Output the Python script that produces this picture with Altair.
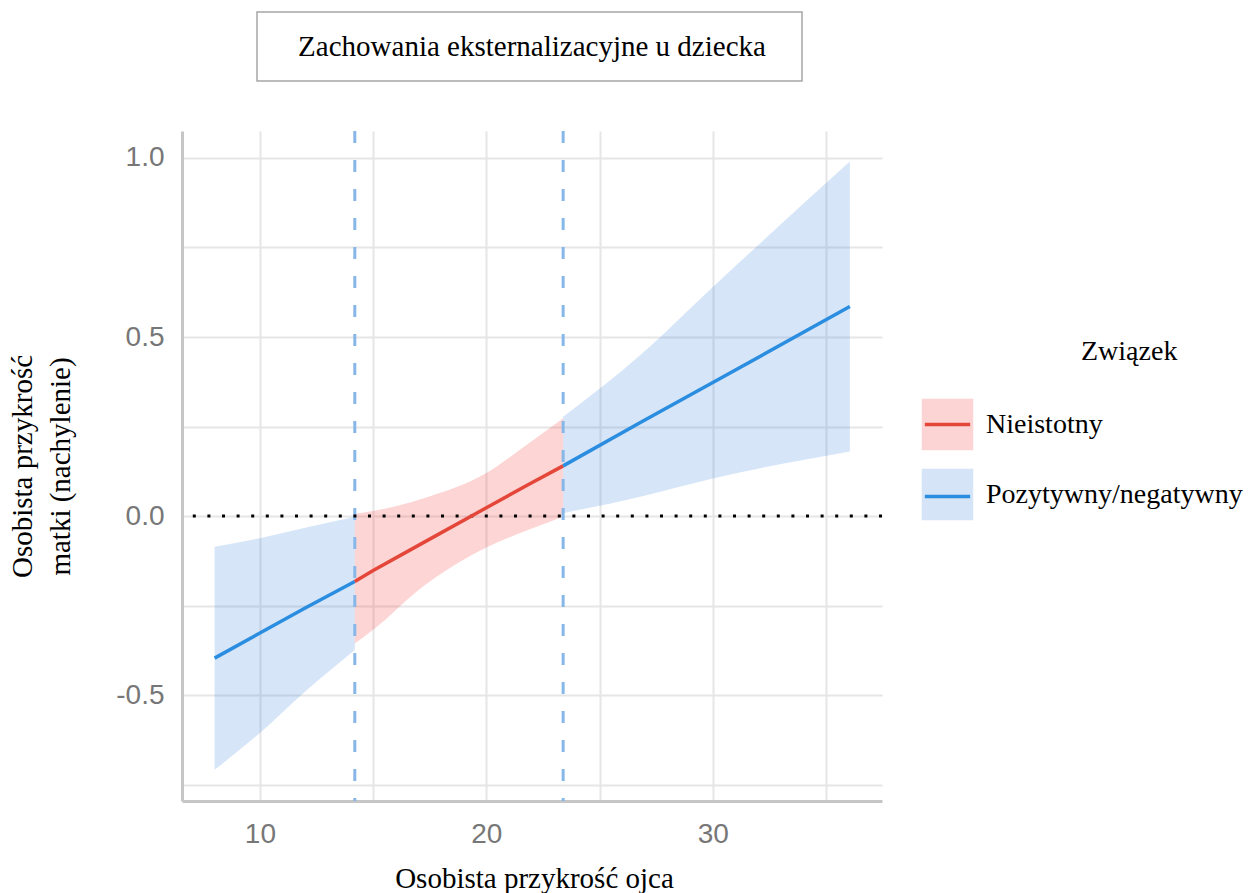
import altair as alt
import pandas as pd

# ---- values ----
left_x = [8.0, 10.0, 12.0, 14.19]
left_fit = [-0.397, -0.327, -0.257, -0.183]
left_lo = [-0.709, -0.606, -0.490, -0.374]
left_hi = [-0.086, -0.062, -0.033, -0.002]

mid_x = [14.19, 15.0, 17.2, 20.0, 21.8, 23.39]
mid_fit = [-0.183, -0.152, -0.075, 0.023, 0.086, 0.140]
mid_lo = [-0.356, -0.318, -0.197, -0.088, -0.040, -0.002]
mid_hi = [0.006, 0.014, 0.049, 0.120, 0.200, 0.273]

right_x = [23.39, 26.8, 30.0, 36.05]
right_fit = [0.140, 0.261, 0.373, 0.585]
right_lo = [0.008, 0.054, 0.105, 0.180]
right_hi = [0.277, 0.450, 0.640, 0.990]

segment_groups = ["Pozytywny/negatywny", "Nieistotny", "Pozytywny/negatywny"]
jn_points = [14.19, 23.39]
zero_line = [0.0]
x_ticks = [10, 15, 20, 25, 30, 35]
y_ticks = [-0.75, -0.5, -0.25, 0.0, 0.25, 0.5, 0.75, 1.0]

title_text = "Zachowania eksternalizacyjne u dziecka"
x_title = "Osobista przykrość ojca"
y_title = ["Osobista przykrość", "matki (nachylenie)"]
legend_title = "Związek"

# ---- tables ----
rows = []
for seg, (xs, fit, lo, hi) in enumerate([
    (left_x, left_fit, left_lo, left_hi),
    (mid_x, mid_fit, mid_lo, mid_hi),
    (right_x, right_fit, right_lo, right_hi),
]):
    for i in range(len(xs)):
        rows.append(dict(x=xs[i], fit=fit[i], lo=lo[i], hi=hi[i],
                         grp=segment_groups[seg], grp_line=segment_groups[seg], seg=seg))
df = pd.DataFrame(rows)
jn_df = pd.DataFrame({"x": jn_points})
zero_df = pd.DataFrame({"y": zero_line})
box_df = pd.DataFrame({"k": [0]})

SERIF = "Liberation Serif"
SANS = "Liberation Sans"

xscale = alt.Scale(domain=[6.56, 37.47], nice=False, zero=False)
yscale = alt.Scale(domain=[-0.796, 1.0754], nice=False, zero=False)

x_axis = alt.Axis(
    values=x_ticks, format="d",
    labelExpr="datum.value % 10 == 0 ? datum.label : ''",
    labelPadding=19,
    title=x_title, titleX=352, titleY=86, titleAlign="center", titleBaseline="alphabetic",
)
y_axis = alt.Axis(
    values=y_ticks,
    labelExpr="abs(datum.value) % 0.5 == 0 ? (datum.value < 0 ? '-' : '') + format(abs(datum.value), '.1f') : ''",
    labelPadding=18,
    title=y_title, titleX=-151, titleY=335, titleAngle=270, titleAlign="center",
    titleBaseline="alphabetic", titleLineHeight=38,
)

X = alt.X("x:Q", scale=xscale, axis=x_axis)

legend_common = dict(
    orient="none", legendX=738, legendY=207, padding=0,
    titleFont=SERIF, titleFontSize=28, titleFontWeight="normal", titleColor="black",
    titleAnchor="middle", titleAlign="left", titlePadding=31, titleLimit=400,
    labelFont=SERIF, labelFontSize=28, labelColor="black", labelOffset=11, labelLimit=500,
    symbolSize=2650, rowPadding=5,
)

band = alt.Chart(df).mark_area(opacity=0.2, interpolate="monotone").encode(
    x=X,
    y=alt.Y("lo:Q", scale=yscale, axis=y_axis),
    y2="hi:Q",
    fill=alt.Fill("grp:N", scale=alt.Scale(range=["#f02d28", "#3282dc"]),
                  legend=alt.Legend(title=legend_title, symbolType="square",
                                    symbolOpacity=0.2, symbolStrokeColor="transparent",
                                    symbolStrokeWidth=3, **legend_common)),
    detail="seg:N",
)

vlines = alt.Chart(jn_df).mark_rule(color="#86b7e8", strokeWidth=3, strokeDash=[12, 17]).encode(
    x=alt.X("x:Q", scale=xscale, axis=x_axis)
)

zero = alt.Chart(zero_df).mark_rule(color="black", strokeWidth=3, strokeDash=[3, 11.6]).encode(
    y=alt.Y("y:Q", scale=yscale, axis=y_axis)
)

lines = alt.Chart(df).mark_line(strokeWidth=3.5).encode(
    x=X,
    y=alt.Y("fit:Q", scale=yscale, axis=y_axis),
    stroke=alt.Stroke("grp_line:N", scale=alt.Scale(range=["#e4473a", "#2b8de0"]),
                      legend=alt.Legend(title=legend_title, titleOpacity=0, labelOpacity=0,
                                        symbolType="M-1,-1M-0.88,0L0.88,0M1,1",
                                        symbolStrokeWidth=3.5, symbolFillColor="transparent",
                                        **legend_common)),
    detail="seg:N",
)

box = alt.Chart(box_df).mark_rect(fill="white", fillOpacity=0, stroke="#a6a6a6", strokeWidth=1.5).encode(
    x=alt.value(75), x2=alt.value(620), y=alt.value(-119), y2=alt.value(-50)
)

chart = alt.layer(band, vlines, zero, lines, box).properties(
    width=700, height=670,
    title=alt.TitleParams(text=title_text, font=SERIF, fontSize=29, fontWeight="normal",
                          color="black", anchor="middle", frame="group",
                          baseline="alphabetic", offset=-73.25),
    autosize=alt.AutoSizeParams(type="none"),
    padding={"left": 182, "top": 131, "right": 375, "bottom": 92},
    background="white",
).configure_view(stroke=None).configure_axis(
    grid=True, gridColor="#e6e6e6", gridWidth=2,
    domainColor="#c6c6c6", domainWidth=3,
    ticks=False, tickSize=0,
    labelFont=SANS, labelFontSize=28, labelColor="#777777",
    titleFont=SERIF, titleFontSize=29, titleFontWeight="normal", titleColor="black",
)

chart.save("out.html", embed_options={"renderer": "svg", "actions": False})
